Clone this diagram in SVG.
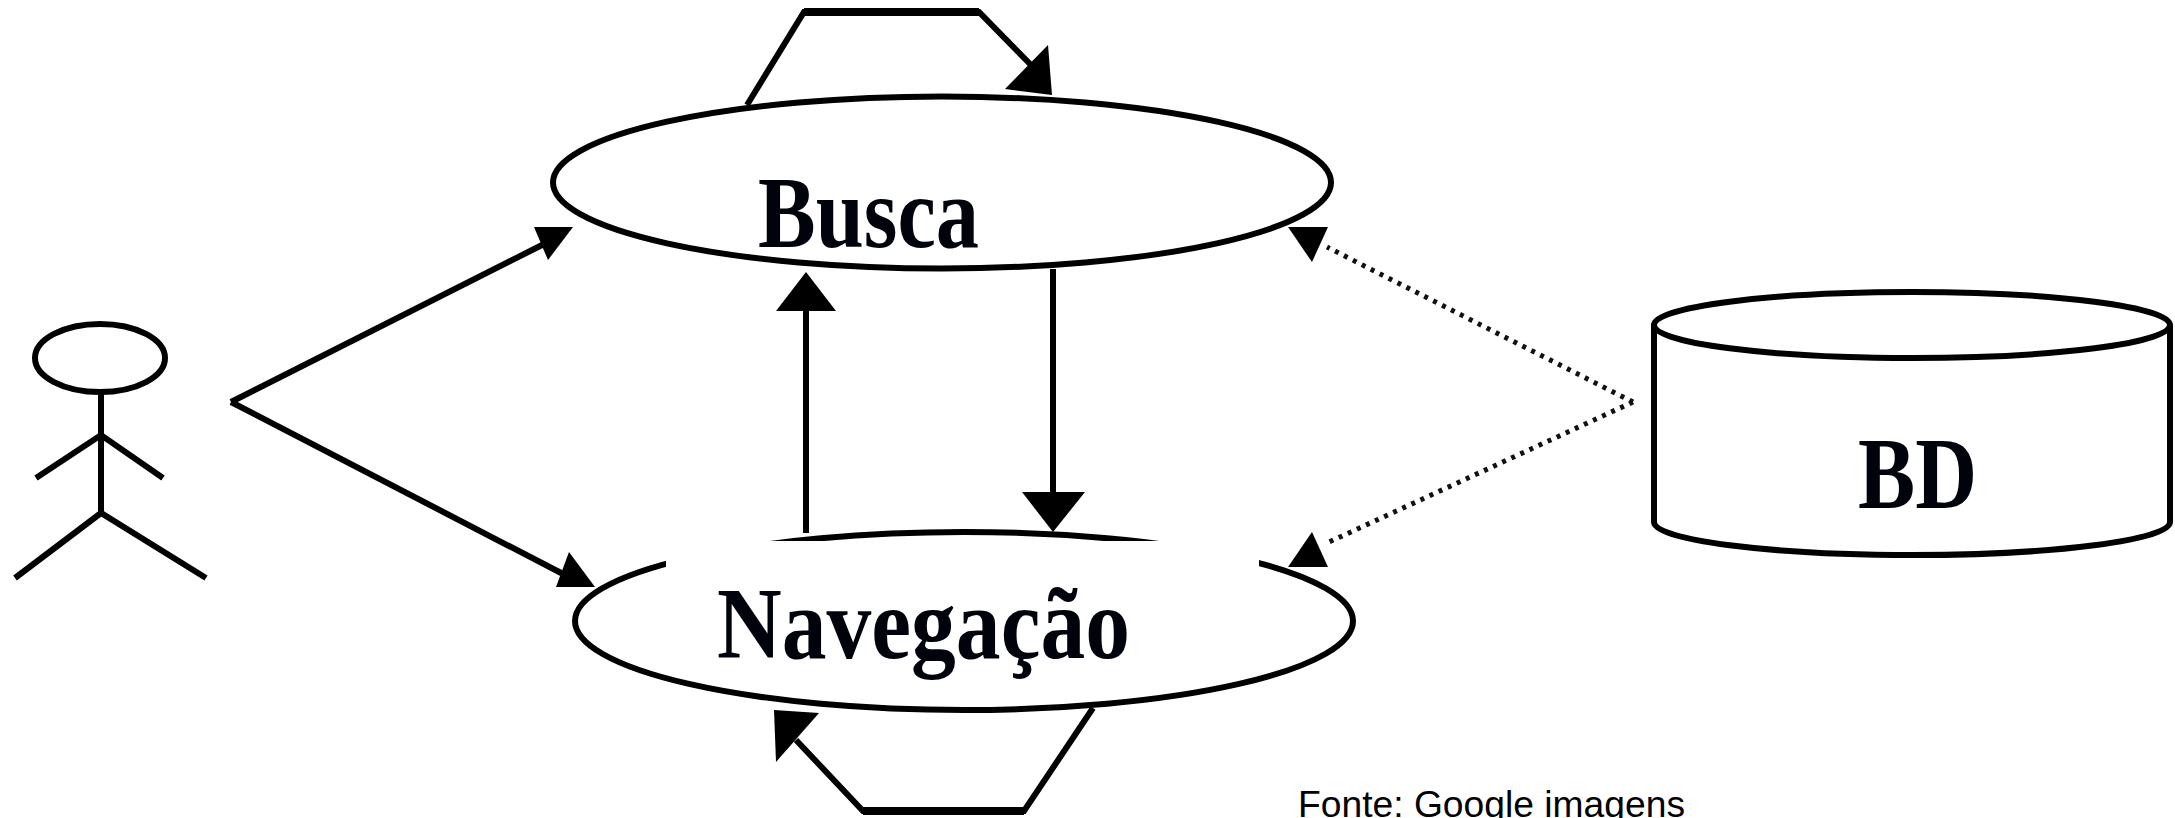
<svg xmlns="http://www.w3.org/2000/svg" width="2175" height="818" viewBox="0 0 2175 818">
<style>
.s{fill:none;stroke:#000;stroke-width:6}
.d{fill:none;stroke:#111;stroke-width:5;stroke-dasharray:4 6}
.h{fill:#000;stroke:none}
.t{font-family:"Liberation Serif","Times New Roman",serif;font-weight:bold;font-size:102px;fill:#00030c}
.f{font-family:"Liberation Sans",Arial,sans-serif;font-size:37px;fill:#000}
</style>
<defs>
<clipPath id="gap"><path clip-rule="evenodd" d="M0 0H2175V818H0ZM666 541H1259V600H666Z"/></clipPath>
</defs>
<rect width="2175" height="818" fill="#fff"/>
<g id="connectors">
<path class="s" d="M231 402L546 243"/>
<polygon class="h" points="573,227 534,227 548,260"/>
<path class="s" d="M231 402L565 575"/>
<polygon class="h" points="595,587 556,587 569,552"/>
<path class="s" d="M747 105L804 12H979L1033 67"/>
<path d="M804 12H979" fill="none" stroke="#000" stroke-width="8"/>
<polygon class="h" points="1048,45 1005,89 1052,95"/>
<path class="s" d="M806 533V305"/>
<polygon class="h" points="806,272 776,311 836,311"/>
<path class="s" d="M1053 269V495"/>
<polygon class="h" points="1053,532 1022,492 1085,492"/>
<path class="s" d="M1093 708L1024 811H863L796 740"/>
<path d="M1024 811H863" fill="none" stroke="#000" stroke-width="8"/>
<polygon class="h" points="774,710 819,713 776,762"/>
<path class="d" d="M1633 402L1327 247"/>
<polygon class="h" points="1288,227 1328,227 1312,262"/>
<path class="d" d="M1633 402L1327 543"/>
<polygon class="h" points="1312,532 1288,567 1328,567"/>
</g>
<g id="actor">
<ellipse class="s" cx="100" cy="358" rx="65" ry="34"/>
<path class="s" d="M101 392V513M36 478L101 435L163 478M15 578L101 513L206 578"/>
</g>
<g id="busca">
<ellipse class="s" cx="942" cy="182.500" rx="389" ry="86"/>
<text class="t" x="758" y="247" textLength="221" lengthAdjust="spacingAndGlyphs">Busca</text>
</g>
<g id="navegacao">
<ellipse class="s" cx="964" cy="621" rx="389" ry="89" clip-path="url(#gap)"/>
<text class="t" x="717" y="658" textLength="413" lengthAdjust="spacingAndGlyphs">Navegação</text>
</g>
<g id="bd">
<ellipse class="s" cx="1912" cy="325" rx="258" ry="33"/>
<path class="s" d="M1654 325V522C1654 540 1770 555 1912 555S2170 540 2170 522V325"/>
<text class="t" x="1858" y="508" textLength="119" lengthAdjust="spacingAndGlyphs">BD</text>
</g>
<text id="fonte" class="f" x="1298" y="817" textLength="387" lengthAdjust="spacingAndGlyphs">Fonte: Google imagens</text>
</svg>
